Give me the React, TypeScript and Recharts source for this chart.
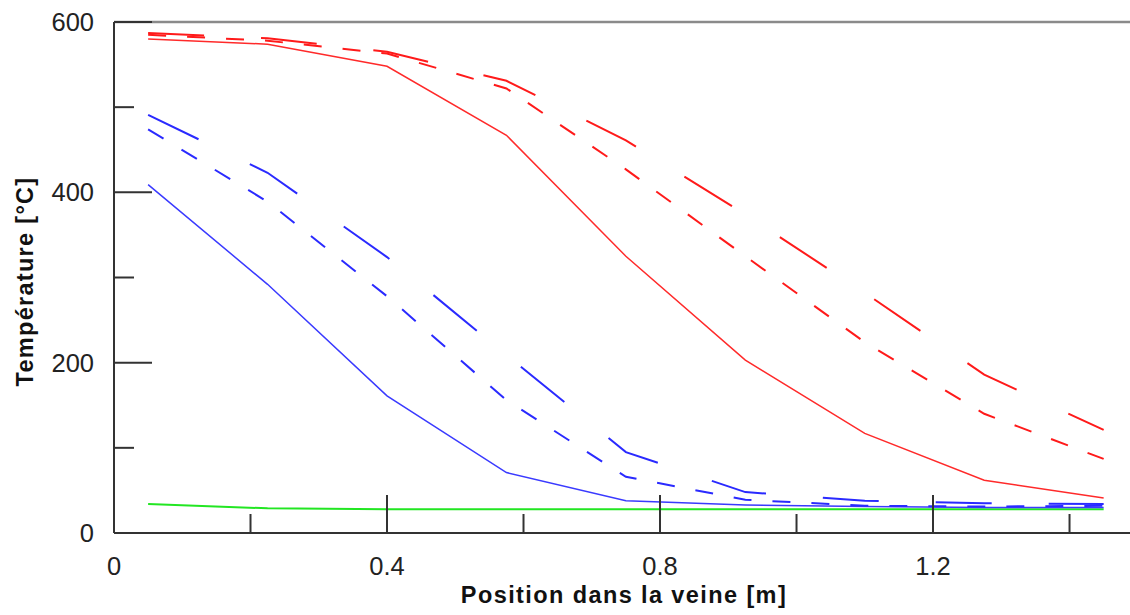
import React from 'react';
import { LineChart, Line, XAxis, YAxis, ReferenceLine } from 'recharts';

const positions = [0.05, 0.225, 0.4, 0.575, 0.75, 0.925, 1.1, 1.275, 1.45];
const redSolid = [580, 574, 548, 467, 325, 203, 117, 62, 41];
const redLongDash = [587, 581, 565, 531, 461, 374, 282, 186, 121];
const redShortDash = [585, 578, 563, 522, 427, 325, 224, 140, 87];
const blueSolid = [409, 292, 161, 71, 38, 33, 31, 30, 30];
const blueLongDash = [491, 423, 324, 209, 95, 48, 38, 35, 34];
const blueShortDash = [474, 389, 278, 156, 66, 39, 32, 31, 32];
const greenSolid = [34, 29, 28, 28, 28, 28, 28, 28, 28];

const xTicks = [0, 0.2, 0.4, 0.6, 0.8, 1.0, 1.2, 1.4];
const yTicks = [0, 100, 200, 300, 400, 500, 600];

const data = positions.map((x, i) => ({
  x,
  rs: redSolid[i],
  rl: redLongDash[i],
  rd: redShortDash[i],
  bs: blueSolid[i],
  bl: blueLongDash[i],
  bd: blueShortDash[i],
  g: greenSolid[i],
}));

const FONT = '"Liberation Sans", Arial, Helvetica, sans-serif';

const XTick = (props: any) => {
  const { x, y, payload } = props;
  const v = payload.value as number;
  const r = v / 0.4;
  const major = Math.abs(r - Math.round(r)) < 1e-6;
  return (
    <g>
      <line x1={x} x2={x} y1={y} y2={y - (major ? 38 : 19)} stroke="#333" strokeWidth={2} />
      {major && (
        <text x={x} y={y + 42} textAnchor="middle" fontSize={25.5} fontFamily={FONT} fill="#222">
          {String(Math.round(v * 10) / 10)}
        </text>
      )}
    </g>
  );
};

const YTick = (props: any) => {
  const { x, y, payload } = props;
  const v = payload.value as number;
  const major = v % 200 === 0;
  return (
    <g>
      <line x1={x} x2={x + (major ? 38 : 20)} y1={y} y2={y} stroke="#333" strokeWidth={2} />
      {major && (
        <text x={x - 20} y={y + 9} textAnchor="end" fontSize={25.5} fontFamily={FONT} fill="#222">
          {v}
        </text>
      )}
    </g>
  );
};

const XTitle = (props: any) => {
  const vb = props.viewBox;
  return (
    <text
      x={vb.x + vb.width / 2 + 2}
      y={vb.y + 70}
      textAnchor="middle"
      fontSize={23.5}
      letterSpacing={1.4}
      fontWeight="bold"
      fontFamily={FONT}
      fill="#111"
    >
      Position dans la veine [m]
    </text>
  );
};

const YTitle = (props: any) => {
  const vb = props.viewBox;
  const cx = 33;
  const cy = vb.y + vb.height / 2 + 4;
  return (
    <text
      x={cx}
      y={cy}
      transform={`rotate(-90 ${cx} ${cy})`}
      textAnchor="middle"
      fontSize={23.5}
      letterSpacing={1.3}
      fontWeight="bold"
      fontFamily={FONT}
      fill="#111"
    >
      Température [°C]
    </text>
  );
};

export default function App() {
  return (
    <div style={{ position: 'absolute', left: 0, top: 0, width: 1130, height: 615, background: '#fff' }}>
      <LineChart width={1130} height={615} data={data} margin={{ top: 22, right: 0, left: 0, bottom: 0 }}>
        <XAxis
          dataKey="x"
          type="number"
          domain={[0, 1.4886]}
          ticks={xTicks}
          interval={0}
          tickSize={0}
          tickMargin={0}
          tickLine={false}
          tick={<XTick />}
          height={82}
          axisLine={{ stroke: '#333', strokeWidth: 2 }}
          label={<XTitle />}
          allowDataOverflow
        />
        <YAxis
          type="number"
          domain={[0, 600]}
          ticks={yTicks}
          interval={0}
          tickSize={0}
          tickMargin={0}
          tickLine={false}
          tick={<YTick />}
          width={114}
          axisLine={{ stroke: '#333', strokeWidth: 2 }}
          label={<YTitle />}
        />
        <ReferenceLine y={600} stroke="#8a8a8a" strokeWidth={2.5} />
        <Line type="linear" dataKey="g" stroke="#22e622" strokeWidth={2} dot={false} isAnimationActive={false} />
        <Line type="linear" dataKey="bs" stroke="#3a3aff" strokeWidth={1.5} dot={false} isAnimationActive={false} />
        <Line type="linear" dataKey="bd" stroke="#2a2aff" strokeWidth={2} strokeDasharray="18 21" dot={false} isAnimationActive={false} />
        <Line type="linear" dataKey="bl" stroke="#2a2aff" strokeWidth={2} strokeDasharray="56 57" dot={false} isAnimationActive={false} />
        <Line type="linear" dataKey="rs" stroke="#ff2a2a" strokeWidth={1.5} dot={false} isAnimationActive={false} />
        <Line type="linear" dataKey="rd" stroke="#ff1a1a" strokeWidth={2} strokeDasharray="18 21" dot={false} isAnimationActive={false} />
        <Line type="linear" dataKey="rl" stroke="#ff1a1a" strokeWidth={2} strokeDasharray="56 57" dot={false} isAnimationActive={false} />
      </LineChart>
    </div>
  );
}
